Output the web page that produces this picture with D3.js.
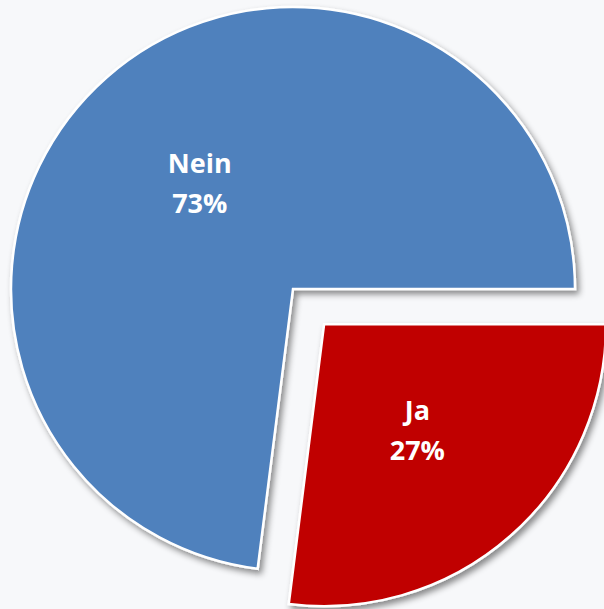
<!DOCTYPE html>
<html lang="de">
<head>
<meta charset="UTF-8">
<title>Ja / Nein</title>
<script src="https://d3js.org/d3.v7.min.js"></script>
<style>
    html, body { margin: 0; padding: 0; background: #f7f8fa; overflow: hidden; }
    #chart { width: 604px; height: 609px; }
</style>
</head>
<body>
<div id="chart"></div>
<script>
// data
const categories = ["Ja", "Nein"];
const values = [27, 73];
const colors = ["#c00000", "#4f81bd"];
const exploded = [true, false];

const width = 604, height = 609;
const cx = 293, cy = 289, radius = 282;
const explodeDist = 47;

const svg = d3.select("#chart").append("svg")
    .attr("width", width)
    .attr("height", height);

// soft shadow like the office chart
const defs = svg.append("defs");
const f = defs.append("filter").attr("id", "shadow")
    .attr("x", "-20%").attr("y", "-20%").attr("width", "140%").attr("height", "140%");
f.append("feDropShadow")
    .attr("dx", 3).attr("dy", 4)
    .attr("stdDeviation", 3)
    .attr("flood-color", "#000")
    .attr("flood-opacity", 0.45);

const pie = d3.pie()
    .sort(null)
    .startAngle(Math.PI / 2)
    .endAngle(Math.PI / 2 + 2 * Math.PI);

const arcs = pie(values).map((d, i) => ({ ...d, i }));

const arc = d3.arc().innerRadius(0).outerRadius(radius);
const labelArc = d3.arc().innerRadius(radius * 0.5).outerRadius(radius * 0.5);

function offset(d) {
    if (!exploded[d.i]) return [0, 0];
    const mid = (d.startAngle + d.endAngle) / 2;
    return [Math.sin(mid) * explodeDist, -Math.cos(mid) * explodeDist];
}

const g = svg.append("g").attr("transform", `translate(${cx},${cy})`);

const slice = g.selectAll(".slice")
    .data(arcs)
    .enter().append("g")
    .attr("class", "slice")
    .attr("transform", d => {
        const o = offset(d);
        return `translate(${o[0]},${o[1]})`;
    });

slice.append("path")
    .attr("d", arc)
    .attr("fill", d => colors[d.i])
    .attr("stroke", "#fff")
    .attr("stroke-width", 2.5)
    .attr("stroke-linejoin", "miter")
    .attr("filter", "url(#shadow)");

// labels: category + percent
const total = d3.sum(values);
const lbl = slice.append("text")
    .attr("transform", d => `translate(${labelArc.centroid(d)})`)
    .attr("text-anchor", "middle")
    .attr("fill", "#fff")
    .attr("font-family", "'Open Sans', sans-serif")
    .attr("font-weight", "bold")
    .attr("font-size", "27px");

lbl.append("tspan")
    .attr("x", 0)
    .attr("y", -10)
    .text(d => categories[d.i]);

lbl.append("tspan")
    .attr("x", 0)
    .attr("y", 30)
    .text(d => Math.round(d.value / total * 100) + "%");
</script>
</body>
</html>
